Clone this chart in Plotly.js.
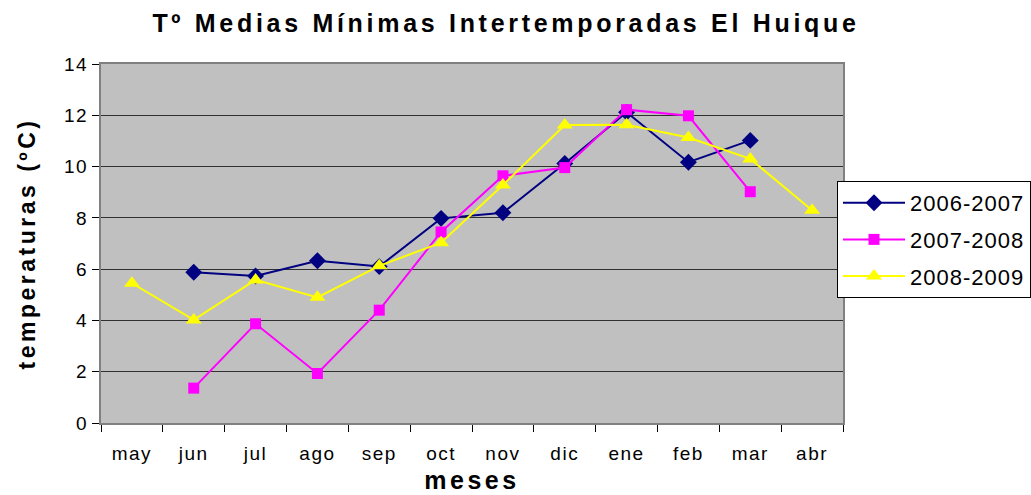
<!DOCTYPE html>
<html><head><meta charset="utf-8">
<script src="https://cdn.plot.ly/plotly-3.0.1.min.js"></script>
<style>
body{margin:0;background:#fff}#c{width:1031px;height:495px}
.gtitle{letter-spacing:3.7px}
.xtitle{letter-spacing:3.5px}
.ytitle{letter-spacing:3.5px}
.xtick text,.ytick text{letter-spacing:1.5px}
.legendtext{letter-spacing:1px}
</style>
</head><body><div id="c"></div>
<script>
const months = ["may","jun","jul","ago","sep","oct","nov","dic","ene","feb","mar","abr"];
const s0607 = [null,5.88,5.73,6.33,6.10,7.98,8.20,10.12,12.12,10.17,11.02,null];
const s0708 = [null,1.36,3.87,1.93,4.40,7.45,9.64,9.96,12.22,11.98,9.02,null];
const s0809 = [5.45,4.02,5.58,4.90,6.13,7.03,9.28,11.62,11.63,11.13,10.30,8.30];
const names = ["2006-2007","2007-2008","2008-2009"];
const font = "Liberation Sans, Arial, sans-serif";
const traces = [
  {x: months, y: s0607, name: names[0], legendgroup:"a", mode:"lines+markers",
   line:{color:"#000080", width:2}, marker:{symbol:"diamond", size:13, color:"#000080"}},
  {x: months, y: s0708, name: names[1], legendgroup:"b", mode:"lines+markers",
   line:{color:"#FF00FF", width:2}, marker:{symbol:"square", size:11, color:"#FF00FF"}},
  {x: months, y: s0809, name: names[2], legendgroup:"c", mode:"lines+markers",
   line:{color:"#FFFF00", width:2}, marker:{symbol:"triangle-up", size:14, color:"#FFFF00"}}
];
const layout = {
  width:1031, height:495,
  margin:{l:101, r:188, t:64, b:72, autoexpand:false},
  paper_bgcolor:"#fff", plot_bgcolor:"#C0C0C0",
  font:{family:font, size:19, color:"#000"},
  title:{text:"<b>Tº Medias Mínimas Intertemporadas El Huique</b>", font:{size:25, family:font},
         x:506/1031, xref:"container", xanchor:"center", y:1-23/495, yref:"container", yanchor:"middle"},
  xaxis:{type:"category", tickson:"boundaries", ticks:"outside", ticklen:7, tickcolor:"#000",
         showgrid:false, showline:true, linecolor:"#808080", linewidth:2, mirror:true,
         range:[-0.5,11.5], tickfont:{size:19}, ticklabelstandoff:12,
         title:{text:"<b>meses</b>", font:{size:25}, standoff:9}},
  yaxis:{range:[0,14], dtick:2, ticks:"outside", ticklen:7, tickcolor:"#000",
         showgrid:true, gridcolor:"#303030", gridwidth:1, zeroline:false,
         showline:true, linecolor:"#808080", linewidth:2, mirror:true, tickfont:{size:19},
         title:{text:"<b>temperaturas (ºC)</b>", font:{size:23}, standoff:22}},
  showlegend:true,
  legend:{x:(837-101)/742, xanchor:"left", y:(423-181)/359, yanchor:"top",
          bgcolor:"#fff", bordercolor:"#000", borderwidth:1, itemwidth:62,
          font:{size:22, family:font}, traceorder:"grouped", tracegroupgap:5}
};
Plotly.newPlot("c", traces, layout, {displayModeBar:false});
</script></body></html>
